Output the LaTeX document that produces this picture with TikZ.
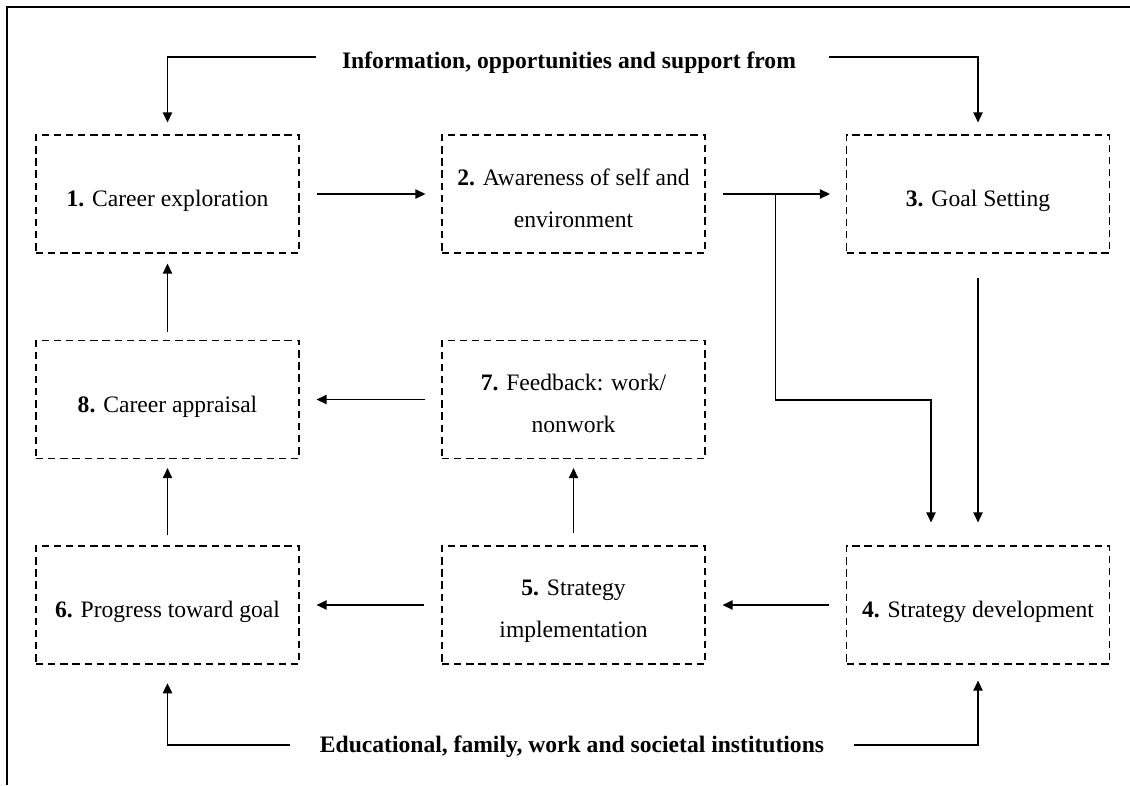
\documentclass[tikz,border=0pt]{standalone}
\usepackage{fontspec}
\setmainfont{Liberation Serif}
\usetikzlibrary{arrows.meta,calc}
\begin{document}
\begin{tikzpicture}[x=0.75pt,y=-0.75pt,
  boxs/.style={draw,dash pattern=on 5.5pt off 3.6pt,line width=0.9pt,minimum width=197.25pt,minimum height=88.5pt,inner sep=0pt},
  txt/.style={font=\fontsize{17.7pt}{31.5pt}\selectfont,align=center,inner sep=0pt},
  hdr/.style={font=\fontsize{17.7pt}{21pt}\selectfont\bfseries,inner sep=0pt},
  arr/.style={line width=1.1pt,-{Triangle[length=7.5pt,width=7pt]}}]
\useasboundingbox (0,0) rectangle (1130,785);
\draw[line width=1.5pt] (7,785) -- (7,7) -- (1130,7);

% boxes
\node[boxs] (b1) at (167.5,194) {};
\node[boxs] (b2) at (573.5,194) {};
\node[boxs] (b3) at (978,194) {};
\node[boxs] (b8) at (167.5,399.5) {};
\node[boxs] (b7) at (573.5,399.5) {};
\node[boxs] (b6) at (167.5,605) {};
\node[boxs] (b5) at (573.5,605) {};
\node[boxs] (b4) at (978,605) {};

% texts
\node[txt] (t1) at ($(b1)+(0,7)$) {\textbf{1.} Career exploration};
\node[txt] (t2) at ($(b2)+(0,4)$) {\textbf{2.} Awareness of self and\\environment};
\node[txt] (t3) at ($(b3)+(0,7)$) {\textbf{3.} Goal Setting};
\node[txt] (t4) at ($(b4)+(0,7)$) {\textbf{4.} Strategy development};
\node[txt] (t5) at ($(b5)+(0,6.5)$) {\textbf{5.} Strategy\\implementation};
\node[txt] (t6) at ($(b6)+(0,7)$) {\textbf{6.} Progress toward goal};
\node[txt] (t7) at ($(b7)+(0,4)$) {\textbf{7.} Feedback: work/\\nonwork};
\node[txt] (t8) at ($(b8)+(0,7)$) {\textbf{8.} Career appraisal};

% headers
\node[hdr,anchor=base] (top) at (569,68) {Information, opportunities and support from};
\node[hdr,anchor=base] (bot) at (572,752) {Educational, family, work and societal institutions};
\coordinate (i1) at (316,57);
\coordinate (i2) at (829,57);
\coordinate (e1) at (290,745);
\coordinate (e2) at (854,745);

% connectors
\draw[arr,shorten >=9pt] (i1) -| (b1.north);
\draw[arr,shorten >=9pt] (i2) -| (b3.north);
\draw[arr,shorten >=14pt] (e1) -| (b6.south);
\draw[arr,shorten >=12pt] (e2) -| (b4.south);

\draw[arr,shorten <=12.75pt,shorten >=12pt] (b1.east) -- (b2.west);
\draw[arr,shorten <=12.75pt,shorten >=12pt] (b2.east) -- (b3.west);
\path (b2.east) -- (b3.west) coordinate[midway] (br);
\draw[arr,shorten >=17.25pt] (br) -- ++(0,206) -| ($(b4.north)+(-47,0)$);
\draw[arr,shorten <=18pt,shorten >=17.25pt] (b3.south) -- (b4.north);
\draw[arr,shorten <=12.75pt,shorten >=12.75pt] (b4.west) -- (b5.east);
\draw[arr,shorten <=12.75pt,shorten >=12.75pt] (b5.west) -- (b6.east);
\draw[arr,shorten <=9pt,shorten >=6.75pt] (b5.north) -- (b7.south);
\draw[arr,shorten <=12pt,shorten >=12.75pt] (b7.west) -- (b8.east);
\draw[arr,shorten <=7.5pt,shorten >=6.75pt] (b6.north) -- (b8.south);
\draw[arr,shorten <=6pt,shorten >=7.5pt] (b8.north) -- (b1.south);
\end{tikzpicture}
\end{document}
